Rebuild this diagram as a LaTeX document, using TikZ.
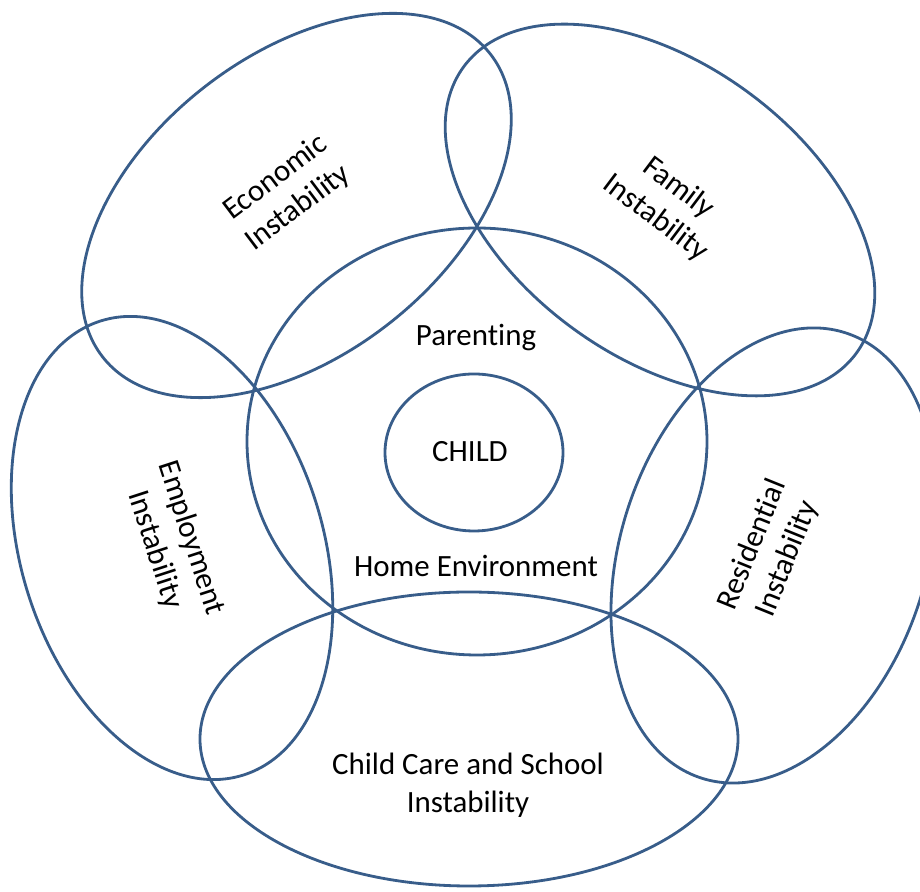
\documentclass[tikz,border=0pt]{standalone}
\usepackage{fontspec}
\setmainfont{Carlito}[Ligatures=NoCommon]
\definecolor{ringblue}{HTML}{385D8A}

\begin{document}
\begin{tikzpicture}[x=0.02cm, y=0.02cm,
    ring/.style={draw=ringblue, line width=1.6pt},
    lbl/.style={font=\fontsize{17.6}{21.5}\selectfont, align=center, inner sep=0pt}]

    \useasboundingbox (0,0) rectangle (920,892);

    % centres of the rings
    \coordinate (homeC) at (477,450.5);
    \coordinate (childC) at (474,439.5);
    \coordinate (econC) at (296.5,686.5);
    \coordinate (famC) at (660,682);
    \coordinate (empC) at (172,344);
    \coordinate (resC) at (773.5,336.5);
    \coordinate (careC) at (469,153);

    % inner rings
    \draw[ring] (homeC) ellipse [x radius=230, y radius=213.5];
    \draw[ring] (childC) ellipse [x radius=89, y radius=78.5];

    % outer rings
    \draw[ring, rotate around={38:(econC)}] (econC) ellipse [x radius=246, y radius=150];
    \draw[ring, rotate around={-36:(famC)}] (famC) ellipse [x radius=243, y radius=147];
    \draw[ring, rotate around={107.4:(empC)}] (empC) ellipse [x radius=238, y radius=151];
    \draw[ring, rotate around={72:(resC)}] (resC) ellipse [x radius=234, y radius=153];
    \draw[ring] (careC) ellipse [x radius=269, y radius=147];

    % labels
    \node[lbl] (child) at (470,440) {CHILD};
    \node[lbl] (parenting) at (476,554) {Parenting};
    \node[lbl] (home) at (476,326) {Home Environment};
    \node[lbl, rotate=37] (econ) at (287,699) {Economic\\Instability};
    \node[lbl, rotate=-37] (fam) at (667,689) {Family\\Instability};
    \node[lbl, rotate=-72] (emp) at (173,348) {Employment\\Instability};
    \node[lbl, rotate=68] (res) at (770,340) {Residential\\Instability};
    \node[lbl] (care) at (468,107) {Child Care and School\\Instability};

\end{tikzpicture}
\end{document}
